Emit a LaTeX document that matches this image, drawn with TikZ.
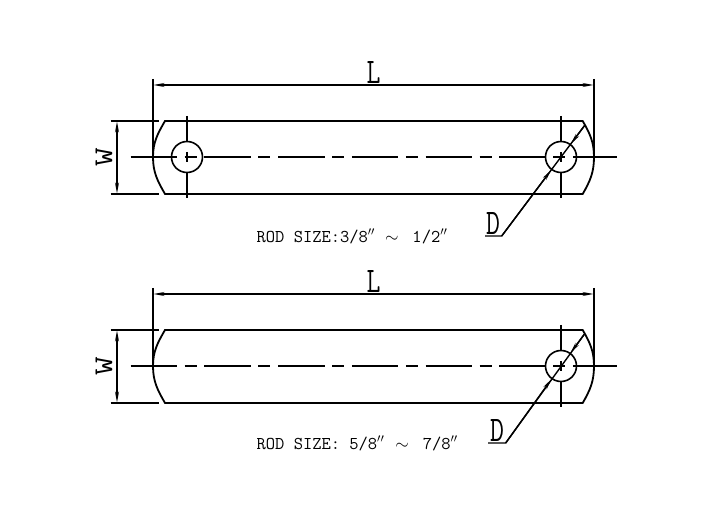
\documentclass[tikz,border=0pt]{standalone}
\usepackage{amsmath}
\usepackage{amssymb}
\usepackage{tikz}
\usetikzlibrary{arrows.meta}
\tikzset{
  part/.style={line width=1.4pt, black},
  outline/.style={line width=1.8pt, black},
  centerline/.style={line width=1.4pt, dash pattern=on 46.5pt off 7.5pt on 12pt off 7.7pt},
  hole/.style={draw, circle, line width=1.6pt, minimum size=31pt, inner sep=0pt},
  dimline/.style={line width=1.4pt, {Stealth[length=11pt,width=4pt]}-{Stealth[length=11pt,width=4pt]}},
  leader/.style={line width=1.4pt, -{Stealth[length=11pt,width=4pt]}},
  biglabel/.style={font=\ttfamily\fontsize{36}{36}\selectfont, xscale=.75, transform shape, inner sep=0pt},
  note/.style={font=\ttfamily\fontsize{18}{18}\selectfont, anchor=west, inner sep=0pt}
}
\begin{document}
\begin{tikzpicture}[x=1pt, y=-1pt]
    \useasboundingbox (0,0) rectangle (716,510);

    % Upper rod, holes at both ends
    \draw[outline] (165,121) -- (582.7,121) to[out=-60, in=90] (594,157) to[out=-90, in=60] (582.7,194)
        -- (165,194) to[out=120, in=-90] (153,157) to[out=90, in=-120] cycle;
    \draw[centerline] (130.7,157) -- (616.7,157);
    \node[hole] (holeA) at (187,157) {};
    \node[hole] (holeB) at (561,157) {};
    \draw[part] (187,116) -- (holeA.north);
    \draw[part] (holeA.south) -- (187,198);
    \draw[part] (187,152) -- (187,162);
    \draw[part] (561,116) -- (holeB.north);
    \draw[part] (holeB.south) -- (561,198);
    \draw[part] (561,152) -- (561,162);

    % Width and length dimensions
    \draw[part] (110.7,121) -- (159.3,121);
    \draw[part] (110.7,194) -- (159.3,194);
    \draw[part] (153,79) -- (153,157);
    \draw[part] (594,79) -- (594,157);
    \draw[dimline] (117,121.5) -- (117,193.5);
    \draw[dimline] (153.5,85) -- (593.5,85);
    \node[biglabel] (lenA) at (373.5,73) {L};
    \node[biglabel, rotate=90] (widA) at (104,157.5) {W};

    % Diameter leader
    \coordinate (footA) at (501.7,236);
    \coordinate (tipA) at (585,125);
    \draw[part] (485,236) -- (footA) -- (tipA);
    \draw[leader] (footA) -- (holeB.233);
    \draw[leader] (tipA) -- (holeB.53);
    \node[biglabel] (diaA) at (493,223.5) {D};
    \node[note] (sizeA) at (256.5,236.5) {ROD SIZE:3/8$''$\hspace{10pt}$\sim$\hspace{14pt}1/2$''$};

    % Lower rod, hole at one end only
    \draw[outline] (165,330) -- (582.7,330) to[out=-60, in=90] (594,366) to[out=-90, in=60] (582.7,403)
        -- (165,403) to[out=120, in=-90] (153,366) to[out=90, in=-120] cycle;
    \draw[centerline] (130.7,366) -- (616.7,366);
    \node[hole] (holeC) at (561,366) {};
    \draw[part] (561,325) -- (holeC.north);
    \draw[part] (holeC.south) -- (561,407);
    \draw[part] (561,361) -- (561,371);

    \draw[part] (110.7,330) -- (159.3,330);
    \draw[part] (110.7,403) -- (159.3,403);
    \draw[part] (153,288) -- (153,366);
    \draw[part] (594,288) -- (594,366);
    \draw[dimline] (117,330.5) -- (117,402.5);
    \draw[dimline] (153.5,294) -- (593.5,294);
    \node[biglabel] (lenB) at (373.5,282) {L};
    \node[biglabel, rotate=90] (widB) at (104,366.5) {W};

    \coordinate (footB) at (505.7,443);
    \coordinate (tipB) at (584.3,334.3);
    \draw[part] (488,443) -- (footB) -- (tipB);
    \draw[leader] (footB) -- (holeC.234);
    \draw[leader] (tipB) -- (holeC.54);
    \node[biglabel] (diaB) at (497,431) {D};
    \node[note] (sizeB) at (256.5,443.5) {ROD SIZE: 5/8$''$\hspace{11pt}$\sim$\hspace{14pt}7/8$''$};
\end{tikzpicture}
\end{document}
